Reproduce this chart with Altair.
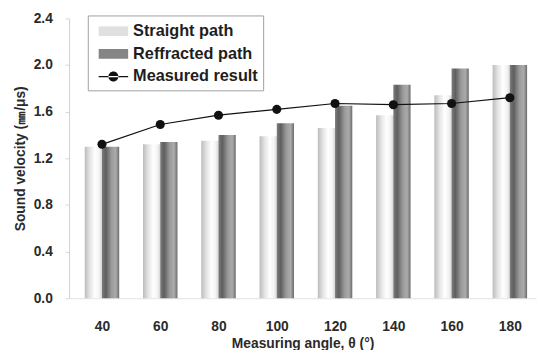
import altair as alt
import pandas as pd

angles = [40, 60, 80, 100, 120, 140, 160, 180]
straight = [1.30, 1.32, 1.35, 1.39, 1.46, 1.57, 1.74, 2.00]
refracted = [1.30, 1.34, 1.40, 1.50, 1.65, 1.83, 1.97, 2.00]
measured = [1.32, 1.49, 1.57, 1.62, 1.67, 1.66, 1.67, 1.72]
series = ["Straight path", "Reffracted path", "Measured result"]
y_ticks = [0.0, 0.4, 0.8, 1.2, 1.6, 2.0, 2.4]

df = pd.DataFrame({"angle": angles, "straight": straight,
                   "refracted": refracted, "measured": measured})
leg = pd.DataFrame({"series": series, "angle": [40] * 3, "v": [0.0] * 3})

FONT = "Liberation Sans"

x_scale = alt.Scale(domain=[30.4, 187.3], nice=False, zero=False)
y_scale = alt.Scale(domain=[0, 2.4], nice=False)

x_enc = alt.X("angle:Q", scale=x_scale,
              axis=alt.Axis(values=angles, title="Measuring angle, θ (°)",
                            ticks=False, labelPadding=22, grid=False,
                            domainColor="#e2e2e2", titlePadding=3))
y_axis = alt.Axis(values=y_ticks, format=".1f",
                  title="Sound velocity (㎜/μs)",
                  tickColor="#d6d6d6", tickSize=4, labelPadding=13,
                  domainColor="#d0d0d0", grid=False, titlePadding=6)

g_straight = {"gradient": "linear", "x1": 0, "y1": 0, "x2": 1, "y2": 0,
              "stops": [{"offset": 0, "color": "#bcbcbc"},
                        {"offset": 0.3, "color": "#e4e4e4"},
                        {"offset": 0.6, "color": "#ffffff"},
                        {"offset": 0.85, "color": "#f2f2f2"},
                        {"offset": 1, "color": "#d4d4d4"}]}
g_refr = {"gradient": "linear", "x1": 0, "y1": 0, "x2": 1, "y2": 0,
          "stops": [{"offset": 0, "color": "#7c7c7c"},
                    {"offset": 0.22, "color": "#5e5e5e"},
                    {"offset": 0.55, "color": "#9a9a9a"},
                    {"offset": 0.8, "color": "#ababab"},
                    {"offset": 1, "color": "#6c6c6c"}]}

base = alt.Chart(df)

bars_s = base.mark_bar(width=17.5, xOffset=-8.75, color=g_straight).encode(
    x=x_enc, y=alt.Y("straight:Q", scale=y_scale, axis=y_axis))
bars_r = base.mark_bar(width=17.5, xOffset=8.75, color=g_refr).encode(
    x=alt.X("angle:Q", scale=x_scale), y=alt.Y("refracted:Q", scale=y_scale))
line = base.mark_line(color="#111111", strokeWidth=1.2).encode(
    x=alt.X("angle:Q", scale=x_scale), y=alt.Y("measured:Q", scale=y_scale))
pts = base.mark_point(filled=True, color="#111111", size=85, opacity=1).encode(
    x=alt.X("angle:Q", scale=x_scale), y=alt.Y("measured:Q", scale=y_scale))

rect_path = "M-0.45,-0.45H2.27V0.45H-0.45Z"
line_path = ("M-0.45,-0.055H2.27V0.055H-0.45Z "
             "M0.45,0A0.46,0.46 0 1,0 1.37,0A0.46,0.46 0 1,0 0.45,0Z")

legend_layer = alt.Chart(leg).mark_point(filled=True, opacity=0, size=484).encode(
    x=alt.X("angle:Q", scale=x_scale),
    y=alt.Y("v:Q", scale=y_scale),
    color=alt.Color("series:N",
                    scale=alt.Scale(domain=series,
                                    range=["#e0e0e0", "#858585", "#111111"]),
                    legend=alt.Legend(title=None, orient="none", legendX=19, legendY=-3,
                                      symbolOpacity=1, symbolStrokeWidth=0,
                                      symbolSize=484,
                                      labelFont=FONT, labelFontWeight="bold",
                                      labelFontSize=16.5, labelColor="#1e1e1e",
                                      labelOffset=19, rowPadding=3, padding=5,
                                      strokeColor="#a0a0a0", fillColor="white")),
    shape=alt.Shape("series:N",
                    scale=alt.Scale(domain=series,
                                    range=[rect_path, rect_path, line_path]),
                    legend=None),
)

chart = alt.layer(bars_s, bars_r, line, pts, legend_layer).properties(
    width=474, height=284,
    autosize=alt.AutoSizeParams(type="none"),
    padding={"left": 62, "top": 8, "right": 3, "bottom": 50},
).configure_view(stroke=None).configure_axis(
    labelFont=FONT, labelFontWeight="bold", labelFontSize=14, labelColor="#2a2a2a",
    titleFont=FONT, titleFontWeight="bold", titleFontSize=14, titleColor="#2a2a2a",
)

chart.save("out.html", embed_options={"renderer": "svg", "actions": False})
